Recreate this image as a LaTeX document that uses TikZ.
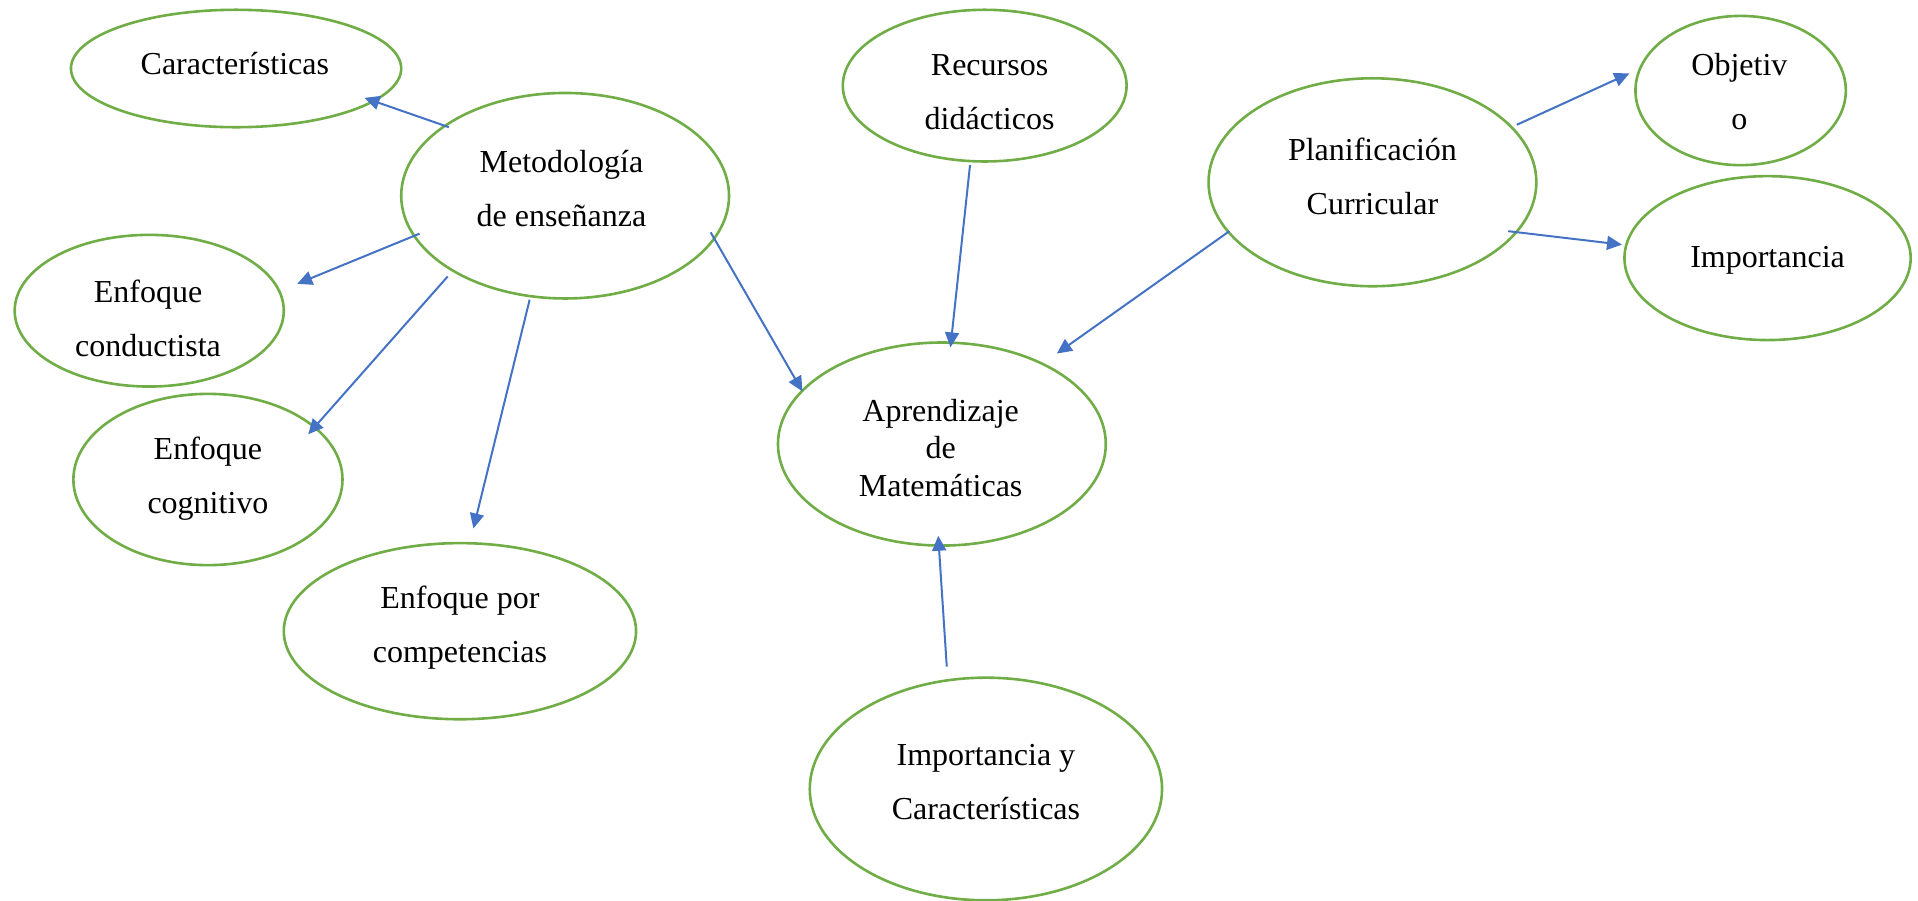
\documentclass[tikz,border=0pt]{standalone}
\usepackage{fontspec}
\setmainfont{Liberation Serif}
\usetikzlibrary{shapes.geometric,arrows.meta}
\definecolor{ellgreen}{HTML}{70AD47}
\definecolor{arrblue}{HTML}{4472C4}
\tikzset{
  ell/.style 2 args={ellipse, draw=ellgreen, line width=1.3pt, inner sep=0pt,
    minimum width=#1*0.6116pt, minimum height=#2*0.6116pt},
  txt/.style={align=center, inner sep=0pt, font=\fontsize{16}{27}\selectfont},
  arr/.style={draw=arrblue, line width=1pt, -{Triangle[length=7.5pt,width=7pt]}}
}
\begin{document}
\begin{tikzpicture}[x=0.6116pt,y=-0.6116pt]
\useasboundingbox (0,0) rectangle (1568,736);
% ellipses
\node[ell={270}{96}]  (car) at (193,56) {};
\node[ell={268}{168}] (met) at (462,160) {};
\node[ell={220}{124}] (con) at (122,254) {};
\node[ell={220}{140}] (cog) at (170,392) {};
\node[ell={288}{144}] (com) at (376,516) {};
\node[ell={232}{124}] (rec) at (805,70) {};
\node[ell={268}{166}] (apr) at (770,363) {};
\node[ell={288}{182}] (imc) at (806,645) {};
\node[ell={268}{170}] (pla) at (1122,149) {};
\node[ell={172}{122}] (obj) at (1423,74) {};
\node[ell={234}{134}] (imp) at (1445,211) {};
% texts
\node[txt] (tcar) at (192,52) {Características};
\node[txt] (tmet) at (459,154) {Metodología\\de enseñanza};
\node[txt] (tcon) at (121,260) {Enfoque\\conductista};
\node[txt] (tcog) at (170,391) {Enfoque\\cognitivo};
\node[txt] (tcom) at (376,513) {Enfoque por\\competencias};
\node[txt] (trec) at (809,75) {Recursos\\didácticos};
\node[txt, font=\fontsize{16}{18.7}\selectfont] (tapr) at (769,366) {Aprendizaje\\de\\Matemáticas};
\node[txt] (timc) at (806,639) {Importancia y\\Características};
\node[txt] (tpla) at (1122,144) {Planificación\\Curricular};
\node[txt] (tobj) at (1422,75) {Objetiv\\o};
\node[txt] (timp) at (1445,213) {Importancia};
% connector end points
\coordinate (m1) at (367,104); \coordinate (c1) at (298,80);
\coordinate (m2) at (343,191); \coordinate (c2) at (243,232);
\coordinate (m3) at (366,226); \coordinate (c3) at (252,355);
\coordinate (m4) at (433,245); \coordinate (c4) at (387,432);
\coordinate (m5) at (581,190); \coordinate (a5) at (656,320);
\coordinate (r6) at (793,135); \coordinate (a6) at (777,284);
\coordinate (p7) at (1005,189); \coordinate (a7) at (864,289);
\coordinate (i8) at (774,545); \coordinate (a8) at (767,438);
\coordinate (p9) at (1240,102); \coordinate (o9) at (1332,60);
\coordinate (p10) at (1233,189); \coordinate (o10) at (1326,200);
% connectors
\draw[arr] (m1) -- (c1);
\draw[arr] (m2) -- (c2);
\draw[arr] (m3) -- (c3);
\draw[arr] (m4) -- (c4);
\draw[arr] (m5) -- (a5);
\draw[arr] (r6) -- (a6);
\draw[arr] (p7) -- (a7);
\draw[arr] (i8) -- (a8);
\draw[arr] (p9) -- (o9);
\draw[arr] (p10) -- (o10);
\end{tikzpicture}
\end{document}
